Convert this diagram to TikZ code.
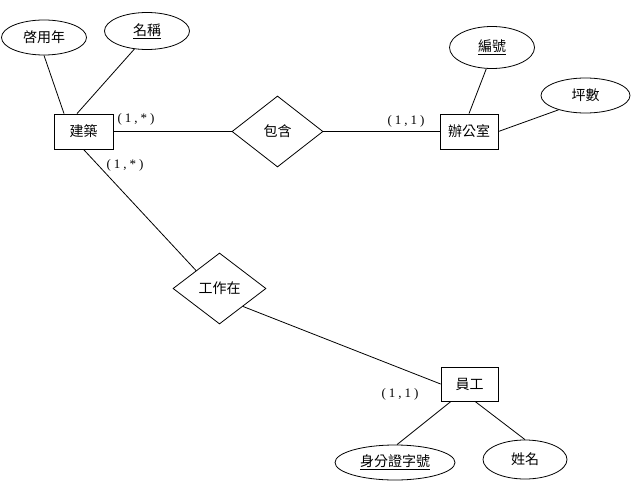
\documentclass[tikz,border=0pt]{standalone}
\usepackage{fontspec}
\setmainfont{Liberation Serif}
\newfontfamily\cjk{Noto Sans CJK TC}
\usetikzlibrary{shapes.geometric}
\newcommand{\cs}{\hspace{3pt}}
\begin{document}
\begin{tikzpicture}[x=1pt,y=-1pt,
  every node/.style={inner sep=0pt},
  ent/.style={draw,line width=0.8pt,font=\cjk\fontsize{14}{16}\selectfont},
  attr/.style={draw,ellipse,line width=0.8pt,font=\cjk\fontsize{14}{16}\selectfont},
  rel/.style={draw,diamond,line width=0.8pt,font=\cjk\fontsize{14}{16}\selectfont},
  card/.style={font=\fontsize{13}{15}\selectfont},
  conn/.style={line width=0.8pt}]
\useasboundingbox (0,0) rectangle (636,489);
% entities
\node[ent,minimum width=59pt,minimum height=35pt] (jz) at (83.5,131.5) {建築};
\node[ent,minimum width=58pt,minimum height=35pt] (bgs) at (469,131.5) {辦公室};
\node[ent,minimum width=57pt,minimum height=34pt] (yg) at (469.5,384) {員工};
% relationships
\node[rel,minimum width=91pt,minimum height=71pt] (bh) at (277.5,131.5) {包含};
\node[rel,minimum width=93pt,minimum height=71pt] (gz) at (219.5,288.5) {工作在};
% attributes
\node[attr,minimum width=85pt,minimum height=35pt] (qy) at (44,37.5) {啓用年};
\node[attr,minimum width=85pt,minimum height=37pt] (mc) at (147,31) {\underline{名稱}};
\node[attr,minimum width=85pt,minimum height=42pt] (bhao) at (492,47.5) {\underline{編號}};
\node[attr,minimum width=89pt,minimum height=35pt] (ps) at (585.5,95.5) {坪數};
\node[attr,minimum width=120pt,minimum height=35pt] (sf) at (395,462.5) {\underline{身分證字號}};
\node[attr,minimum width=84pt,minimum height=39pt] (xm) at (525,459.5) {姓名};
% connectors
\draw[conn] (qy.south) -- ([xshift=-19.5pt]jz.north);
\draw[conn] (mc.-125) -- ([xshift=-6.5pt]jz.north);
\draw[conn] (jz.east) -- (bh.west);
\draw[conn] (bh.east) -- (bgs.west);
\draw[conn] (jz.south) -- (gz.north west);
\draw[conn] (gz.south east) -- (yg.west);
\draw[conn] (bhao.-105) -- (bgs.north);
\draw[conn] (ps.-152) -- (bgs.east);
\draw[conn] ([xshift=-18.5pt]yg.south) -- ([xshift=2pt]sf.north);
\draw[conn] ([xshift=5.5pt]yg.south) -- (xm.north);
% cardinalities
\node[card] (c1) at (136,119) {(\cs1\cs,\cs*\cs)};
\node[card] (c2) at (406,121) {(\cs1\cs,\cs1\cs)};
\node[card] (c3) at (125,165) {(\cs1\cs,\cs*\cs)};
\node[card] (c4) at (400,394) {(\cs1\cs,\cs1\cs)};
\end{tikzpicture}
\end{document}
